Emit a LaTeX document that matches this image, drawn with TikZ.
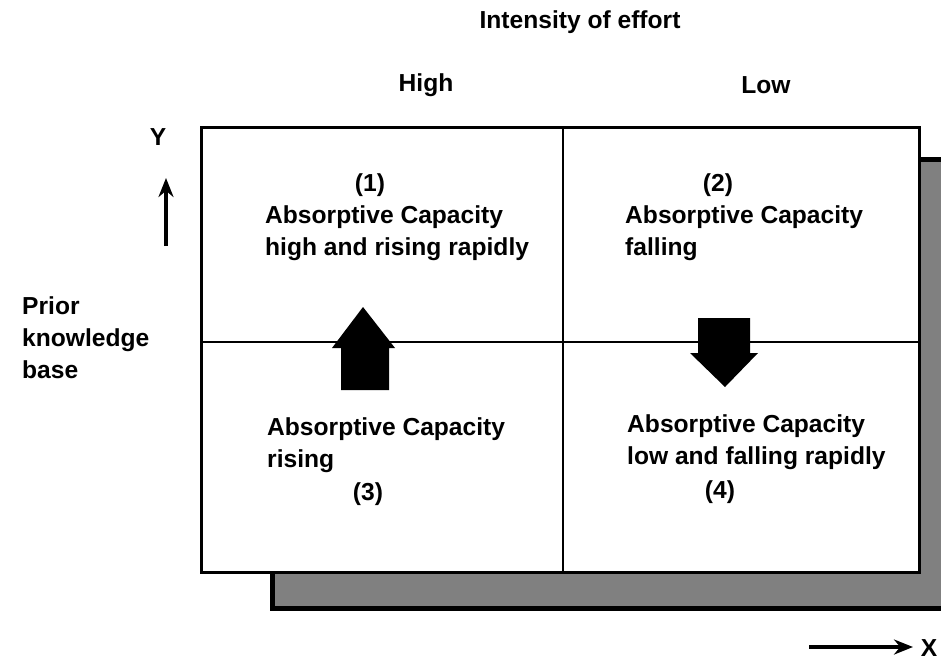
\documentclass[tikz,border=0pt]{standalone}
\usepackage{fontspec}
\setmainfont{Liberation Sans}
\usetikzlibrary{positioning,arrows.meta}

\tikzset{
  lbl/.style={font=\fontsize{24.6}{32}\selectfont\bfseries},
  cell/.style={lbl,align=left,anchor=west},
  bigarrow/.style={fill=black},
  axis/.style={line width=3.5pt,-{Stealth[length=19pt,width=15pt]}}
}

\begin{document}
\begin{tikzpicture}[x=1pt,y=-1pt,inner sep=0pt]
\useasboundingbox (0,0) rectangle (941,667);
\clip (0,0) rectangle (941,667);

% shadow and the box
\node (shade) [draw,line width=5pt,fill=black!50,minimum width=730,minimum height=449,anchor=north west] at (270,157) {};
\node (box) [draw,line width=3.2pt,fill=white,minimum width=718,minimum height=445,anchor=north west] at (200,126) {};
\draw[line width=2.5pt] (563,126) -- (563,571);
\draw[line width=2.5pt] (200,342) -- (918,342);

% headings
\node (title) [lbl] at (580,22) {Intensity of effort};
\node (high) [lbl] at (426,85) {High};
\node (low) [lbl] at (766,85) {Low};
\node (prior) [lbl,align=left,anchor=west] at (22,338) {Prior\\knowledge\\base};

% axes
\node (ylab) [lbl] at (158,137) {Y};
\coordinate (y0) at (166,246);
\coordinate (y1) at (166,178);
\draw[axis] (y0) -- (y1);
\node (xlab) [lbl] at (929,648) {X};
\coordinate (x0) at (809,647);
\coordinate (x1) at (913,647);
\draw[axis] (x0) -- (x1);

% cells
\node (n1) [lbl] at (370,185) {(1)};
\node (c1) [cell] at (265,233) {Absorptive Capacity\\high and rising rapidly};
\node (n2) [lbl] at (718,185) {(2)};
\node (c2) [cell] at (625,233) {Absorptive Capacity\\falling};
\node (c3) [cell] at (267,445) {Absorptive Capacity\\rising};
\node (n3) [lbl] at (368,494) {(3)};
\node (c4) [cell] at (627,442) {Absorptive Capacity\\low and falling rapidly};
\node (n4) [lbl] at (720,492) {(4)};

% the two fat arrows
\fill[bigarrow] (363,307) -- (395,348) -- (389,348) -- (389,390) -- (341,390) -- (341,348) -- (332,348) -- cycle;
\fill[bigarrow] (698,318) -- (750,318) -- (750,353) -- (758,353) -- (725,387) -- (690,353) -- (698,353) -- cycle;
\end{tikzpicture}
\end{document}
